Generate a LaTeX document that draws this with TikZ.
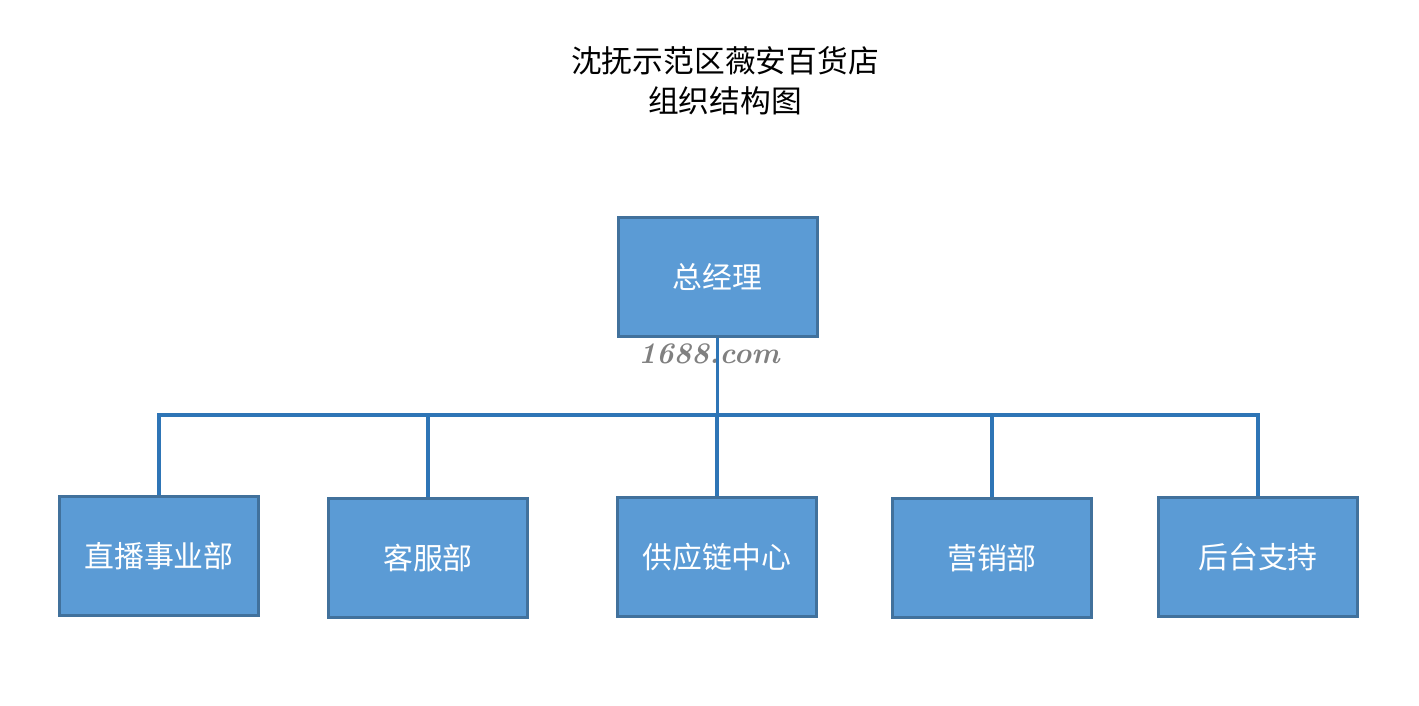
\documentclass[tikz,border=0pt]{standalone}
\usepackage{fontspec}
\newfontfamily\cjk{Noto Sans CJK SC}
\usepackage{tikz}
\usetikzlibrary{positioning}
\usepackage{xcolor}
\definecolor{boxfill}{HTML}{5B9BD5}
\definecolor{boxline}{HTML}{41719C}
\definecolor{linkblue}{HTML}{2E75B6}

\begin{document}
\begin{tikzpicture}[
  dept/.style={draw=boxline, fill=boxfill, line width=1.7pt, minimum width=3.98cm, minimum height=2.38cm, text=white, font=\cjk\fontsize{17}{20}\selectfont},
  link/.style={draw=linkblue, line width=2.2pt}
]
\useasboundingbox[fill=white] (0,0) rectangle (28.38,-14.1);
\node[font=\cjk\fontsize{17.5}{23}\selectfont, align=center] (title) at (14.5,-1.62) {沈抚示范区薇安百货店\\组织结构图};
\node[dept] (gm) at (14.35,-5.54) {总经理};
\node[dept] (live) at (3.18,-11.12) {直播事业部};
\node[dept] (service) at (8.56,-11.16) {客服部};
\node[dept] (supply) at (14.34,-11.14) {供应链中心};
\node[dept] (marketing) at (19.84,-11.16) {营销部};
\node[dept] (backend) at (25.16,-11.14) {后台支持};
\node[text=gray, font=\bfseries\itshape\fontsize{17}{20}\selectfont] (mark) at (14.18,-7.08) {1688.com};
\coordinate (hub) at (gm.south |- 0,-8.3);
\draw[link] (gm.south) -- (hub);
\draw[link] (live.north) |- (hub) -| (backend.north);
\foreach \n in {service,supply,marketing}
  \draw[link] (\n.north) -- (\n.north |- hub);
\end{tikzpicture}
\end{document}
